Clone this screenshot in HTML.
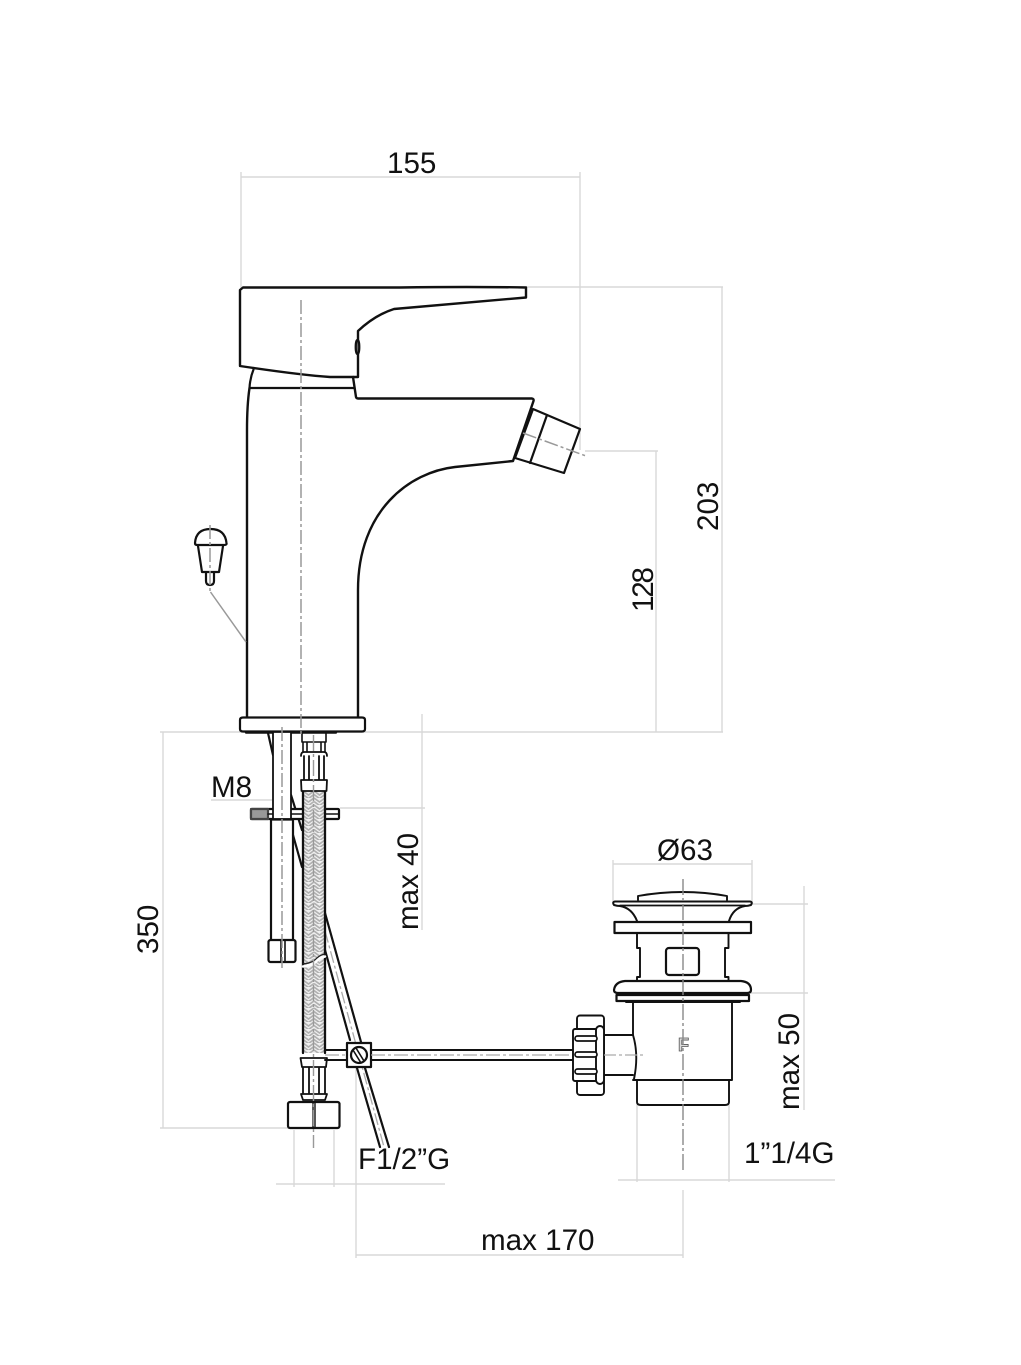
<!DOCTYPE html>
<html><head><meta charset="utf-8"><style>
html,body{margin:0;padding:0;background:#fff}
svg{display:block}
text{font-family:"Liberation Sans",sans-serif;font-size:29.6px;fill:#111}
.d{stroke:#d8d8d8;stroke-width:1.4;fill:none}
.k{stroke:#111;stroke-width:2.2;fill:none;stroke-linejoin:round;stroke-linecap:round}
.t{stroke:#111;stroke-width:1.6;fill:none;stroke-linejoin:round}
.a{stroke:#999;stroke-width:1.5;fill:none;stroke-dasharray:14 3 3 3}
</style></head><body>
<svg width="1021" height="1365" viewBox="0 0 1021 1365" xmlns="http://www.w3.org/2000/svg">
<defs>
<pattern id="h" x="303" y="791" width="11" height="7" patternUnits="userSpaceOnUse">
<rect width="11" height="7" fill="#efefef"/>
<path d="M0 0 L5.500 4 L11 0 M0 3.500 L5.500 7.500 L11 3.500 M0 7 L5.500 11 L11 7" stroke="#b0b0b0" stroke-width="1.700" fill="none"/>
</pattern>
</defs>

<!-- dimension lines -->
<g class="d">
<path d="M241 172V288M580 172V450M241 177H580"/>
<path d="M526 287H723M722 287V732"/>
<path d="M585 451H658M656 451V732"/>
<path d="M160 732H723"/>
<path d="M163 732V1128M160 1128H290"/>
<path d="M340 808H425M422 714V930"/>
<path d="M211 800H272"/>
<path d="M613 860V905M752 860V905M613 864H752"/>
<path d="M750 904H808M750 993H808M804 886V1110"/>
<path d="M637 1100V1182M729 1100V1182M618 1180H835"/>
<path d="M294 1130V1187M334 1130V1187M276 1184H445"/>
<path d="M356 1068V1258M683 1190V1258M356 1255H683"/>
</g>

<!-- faucet body -->
<g class="k">
<path d="M243 287.500H400Q470 286.500 526 287.500V297.500L394 309Q375 315 358 331V377H330Q300 375 240 366V290Z" stroke-width="2.400"/>
<ellipse cx="357.500" cy="347" rx="1.800" ry="7" fill="#666"/>
<path d="M254 368Q250 378 249.500 388H354.500"/>
<path d="M353 377L356 397Q356.500 398.500 358 398.500H532Q534 399 533.500 401L513 461L455 467C410 472 358 510 358 590V717" stroke-width="2.400"/>
<path d="M249.500 388Q247 405 247 430V717" stroke-width="2.400"/>
<path d="M533 409L580 429L564 473L515 458L533 409Z"/>
<path d="M547 415L530 463"/>
<path d="M243 717.500H362Q365 717.500 365 720V729Q365 731.500 362 731.500H243Q240 731.500 240 729V720Q240 717.500 243 717.500Z"/>
<path d="M246 732.500H336" stroke-width="2.400"/>
</g>
<path d="M523 433L586 456" class="a" stroke-dasharray="18 3 3 3"/>

<!-- knob -->
<g class="k" stroke-width="1.800">
<path d="M195 543Q196 529 210.500 529Q225 529 226.500 543Q227 545 224 545H197Q195 545 195 543Z"/>
<path d="M198 546L202 572H219L223 546"/>
<path d="M206 573V581Q206 585 210 585Q214 585 214 581V573"/>
</g>
<path d="M210 525V592" class="a"/>
<path d="M210.500 592L246 642" stroke="#999" stroke-width="1.500" fill="none"/>

<!-- diagonal tube -->
<g class="k" stroke-width="1.900">
<path d="M268 733L273 755"/>
<path d="M291 795L302 830"/>
<path d="M293 835L302 867"/>
<path d="M325 913L361 1042"/>
<path d="M325 950L350 1040"/>
<path d="M357 1068L380 1147"/>
<path d="M365 1068L389 1147"/>
</g>
<path d="M325 931L384 1147" stroke="#aaa" stroke-width="1.300" stroke-dasharray="12 3 3 3"/>

<!-- stud and plate -->
<g class="k">
<rect x="251" y="809" width="88" height="10" fill="#fff" rx="1"/>
<rect x="251" y="809" width="17" height="10" fill="#999" stroke="#444"/>
<path d="M268 814H339" class="t"/>
<rect x="273" y="732" width="18" height="87" fill="#fff" stroke-width="1.800"/>
<path d="M271 820V940M293 820V940M271 819.500H293"/>
<rect x="268.500" y="940" width="27" height="22" rx="2" fill="#fff"/>
<path d="M281 941V961M285 941V961" class="t"/>
</g>
<path d="M282 727V968" class="a"/>

<!-- hose -->
<rect x="303" y="791" width="22" height="262" fill="url(#h)"/>
<g class="k">
<path d="M303 791V1053M325 791V1053" stroke-width="2.300"/>
<path d="M303 964Q313 963 317 958Q320 955 325 954" stroke="#222" stroke-width="1.400"/>
<path d="M303 966.500Q313 965.500 317 960.500Q320 957.500 325 956.500" stroke="#fff" stroke-width="2.500"/>
<path d="M302 732V742H326V732M303 742V752M325 742V752M307 742V752M321 742V752" class="t"/>
<path d="M301 756Q301 752 304 752H324Q327 752 327 756M304 756V780M324 756V780M309 756V780M319 756V780" stroke-width="1.800"/>
<path d="M301 780H327L326.500 791H301.500Z" fill="#fff" stroke-width="1.800"/>
<path d="M300.500 1058H327L326 1067H302Z" fill="#fff" stroke-width="1.800"/>
<path d="M303 1068V1093M325 1068V1093M309 1068V1093M319 1068V1093" stroke-width="1.800"/>
<path d="M301 1094H327L325 1100H303Z" fill="#fff" stroke-width="1.800"/>
<rect x="288" y="1102" width="51.500" height="26" rx="2" fill="#fff"/>
<path d="M313 1102V1128M315 1102V1128" stroke-width="1.400"/>
</g>
<path d="M313.500 735V1148" stroke="#999" stroke-width="1.400" fill="none" stroke-dasharray="16 3 3 3"/>
<path d="M301 300V735" class="a"/>

<!-- rod and clamp -->
<g class="k">
<path d="M325 1050H573M325 1060H573" stroke-width="1.900"/>
<rect x="347" y="1043" width="24" height="24" fill="#fff"/>
<circle cx="359" cy="1055" r="8" fill="#fff"/>
<path d="M353 1050L361 1063M356 1048L364 1061" stroke-width="1.600"/>
</g>
<path d="M325 1055H347M371 1055H573" stroke="#aaa" stroke-width="1.300" stroke-dasharray="14 3 3 3"/>

<!-- drain -->
<g class="k">
<path d="M638 900V896Q683 888 727 896V900" stroke-width="1.900"/>
<path d="M615 901.500H750Q753 902 751 905Q748 906 745 906Q733 908 729 921M615 901.500Q612 902 614 905Q617 906 620 906Q632 908 637 921" stroke-width="2"/>
<path d="M620 905.500H745" stroke-width="1.800"/>
<rect x="614.500" y="922" width="136.500" height="11" fill="#fff"/>
<path d="M637 933V948H640V977H637V981M728.500 933V948H725V977H728.500V981" stroke-width="1.900"/>
<rect x="666" y="948" width="33" height="27" rx="3"/>
<path d="M625 981H741Q751 982 751 990Q751 993 747 993H618Q614 993 614 990Q615 982 625 981Z" fill="#fff"/>
<rect x="616.500" y="995" width="132.500" height="6"/>
<path d="M633 1002V1035Q639 1055 634 1079L633 1080H732V1002M626 1002H740" stroke-width="1.900"/>
<path d="M637 1080V1102Q637 1105 641 1105H725Q729 1105 729 1102V1080" stroke-width="1.900"/>
<path d="M604 1035H633M604 1075H633" stroke-width="2"/>
<rect x="577" y="1015.500" width="27" height="79.500" rx="3" fill="#fff" stroke-width="1.900"/>
<rect x="573" y="1029" width="30" height="52" rx="2" fill="#fff" stroke-width="1.900"/>
<rect x="596" y="1026" width="8" height="58" rx="4" fill="#fff" stroke-width="1.900"/>
<rect x="575" y="1036" width="22" height="5" rx="2.500" fill="#fff" stroke-width="1.700"/>
<rect x="575" y="1052" width="22" height="5" rx="2.500" fill="#fff" stroke-width="1.700"/>
<rect x="575" y="1069" width="22" height="5" rx="2.500" fill="#fff" stroke-width="1.700"/>
</g>
<text x="678" y="1051" style="font-size:18px;font-weight:bold;fill:#ddd;stroke:#555;stroke-width:0.800">F</text>
<path d="M683 879V1171" stroke="#888" stroke-width="1.400" fill="none" stroke-dasharray="16 3 3 3"/>
<path d="M604 1055H644" stroke="#aaa" stroke-width="1.300" stroke-dasharray="12 3 3 3"/>

<!-- labels -->
<text x="387" y="173">155</text>
<text x="211" y="797">M8</text>
<text x="358" y="1169">F1/2”G</text>
<text x="657" y="860">Ø63</text>
<text x="744" y="1163">1”1/4G</text>
<text x="481" y="1250">max 170</text>
<text transform="translate(718,531) rotate(-90)">203</text>
<text transform="translate(653,612) rotate(-90)" textLength="45">128</text>
<text transform="translate(158,954) rotate(-90)">350</text>
<text transform="translate(418,930) rotate(-90)">max 40</text>
<text transform="translate(799,1110) rotate(-90)">max 50</text>
</svg>
</body></html>
